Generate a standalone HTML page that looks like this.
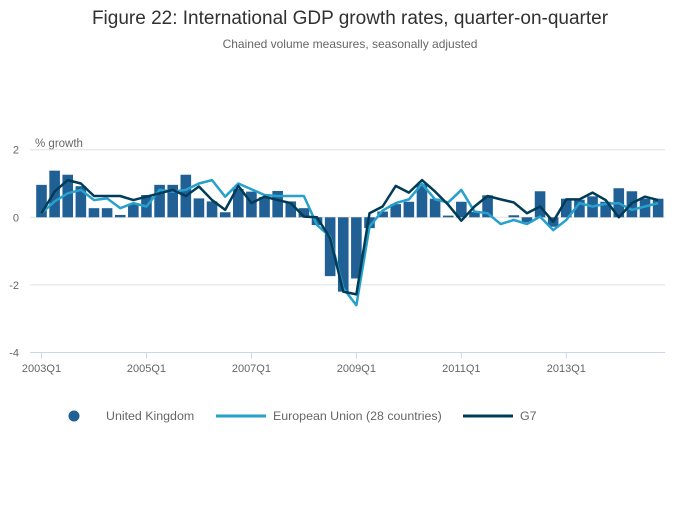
<!DOCTYPE html>
<html><head><meta charset="utf-8"><style>
body{margin:0;background:#fff;font-family:"Liberation Sans",sans-serif;}
</style></head><body>
<svg width="700" height="502" viewBox="0 0 700 502">
<text x="350" y="24" text-anchor="middle" font-size="19" fill="#323132">Figure 22: International GDP growth rates, quarter-on-quarter</text>
<text x="350" y="48" text-anchor="middle" font-size="12" fill="#666">Chained volume measures, seasonally adjusted</text>
<text x="35" y="147" font-size="11.5" fill="#666">% growth</text>
<g id="grid"></g><g id="bars"></g><g id="lines"></g><g id="xaxis"></g>
<g>
<circle cx="74" cy="416" r="5.5" fill="#206095"/>
<text x="106" y="420" font-size="12.4" fill="#666">United Kingdom</text>
<line x1="216" y1="416" x2="266" y2="416" stroke="#27a0cc" stroke-width="3"/>
<text x="273" y="420" font-size="12.4" fill="#666">European Union (28 countries)</text>
<line x1="463" y1="416" x2="513" y2="416" stroke="#003c57" stroke-width="3"/>
<text x="520" y="420" font-size="12.4" fill="#666">G7</text>
</g>
</svg>
<script>
const yTicks=[2,0,-2,-4];
const xLabels=["2003Q1","2005Q1","2007Q1","2009Q1","2011Q1","2013Q1"];
const xLabelIdx=[0,8,16,24,32,40];
const uk=[0.96,1.38,1.26,0.92,0.27,0.27,0.07,0.4,0.66,0.96,0.96,1.26,0.56,0.47,0.15,0.84,0.76,0.6,0.78,0.47,0.27,-0.23,-1.74,-2.2,-1.81,-0.32,0.17,0.39,0.46,0.98,0.55,0.05,0.46,0.16,0.65,0.0,0.06,-0.15,0.77,-0.28,0.55,0.52,0.62,0.46,0.86,0.77,0.55,0.55];
const eu=[0.12,0.47,0.71,0.81,0.51,0.56,0.27,0.42,0.32,0.81,0.76,0.81,1.0,1.1,0.61,1.0,0.83,0.66,0.63,0.63,0.63,-0.23,-0.57,-2.1,-2.6,-0.28,0.2,0.42,0.53,0.99,0.53,0.44,0.81,0.17,0.12,-0.2,-0.08,-0.2,0.02,-0.38,-0.08,0.42,0.32,0.4,0.42,0.22,0.32,0.42];
const g7=[0.12,0.76,1.1,1.0,0.63,0.63,0.63,0.51,0.61,0.71,0.81,0.63,0.91,0.51,0.22,0.93,0.42,0.61,0.51,0.42,0.02,0.0,-0.62,-2.2,-2.28,0.12,0.32,0.93,0.73,1.1,0.76,0.37,-0.1,0.32,0.63,0.53,0.44,0.12,0.32,-0.13,0.53,0.53,0.73,0.51,0.0,0.42,0.61,0.51];
const NS="http://www.w3.org/2000/svg";
const X=i=>41.5+i*13.12;
const Y=v=>217.3-v*33.8;
function mk(t,a,p){const e=document.createElementNS(NS,t);for(const k in a)e.setAttribute(k,a[k]);p.appendChild(e);return e;}
const grid=document.getElementById('grid');
yTicks.forEach(v=>{
  if(v!==-4){const l=mk('line',{x1:30,x2:665,y1:Y(v),y2:Y(v),stroke:'#e0e0e0','stroke-width':1},grid);
  
  }
  const t=mk('text',{x:19,y:Y(v)+4,'text-anchor':'end','font-size':11,fill:'#666'},grid);
  t.textContent=v;
  
  
});
const bars=document.getElementById('bars');
uk.forEach((v,i)=>{
  const r=mk('rect',{x:X(i)-5.3,width:10.6,y:Math.min(Y(v),Y(0)),height:Math.abs(Y(v)-Y(0)),fill:'#206095'},bars);
  
  
});
const lines=document.getElementById('lines');
[[eu,'#27a0cc','line-eu'],[g7,'#003c57','line-g7']].forEach(([d,c,n])=>{
  const p=mk('polyline',{points:d.map((v,i)=>X(i)+','+Y(v)).join(' '),fill:'none',stroke:c,'stroke-width':2.5,'stroke-linejoin':'round'},lines);
  
  
});
const xa=document.getElementById('xaxis');
const ax=mk('line',{x1:30,x2:665,y1:Y(-4),y2:Y(-4),stroke:'#ccd6eb','stroke-width':1},xa);


xLabels.forEach((s,k)=>{
  const x=X(xLabelIdx[k]);
  mk('line',{x1:x,x2:x,y1:Y(-4),y2:Y(-4)+6,stroke:'#ccd6eb'},xa);
  const t=mk('text',{x:x,y:372,'text-anchor':'middle','font-size':11,fill:'#666'},xa);
  t.textContent=s;
  
  
});
</script>
</body></html>
